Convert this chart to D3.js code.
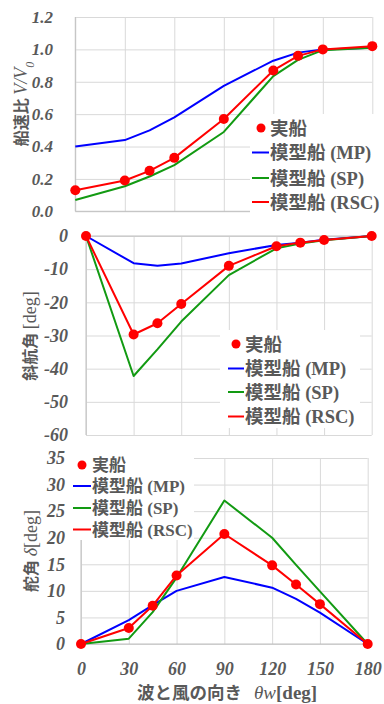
<!DOCTYPE html>
<html>
<head>
<meta charset="utf-8">
<script src="https://cdn.jsdelivr.net/npm/d3@7"></script>
<style>
  body { margin: 0; background: #ffffff; }
  svg { display: block; }
</style>
</head>
<body>
<svg id="chart" width="384" height="704"></svg>
<script>
// Wave/wind heading angles (deg) at which each quantity was evaluated
const angles = [0, 30, 45, 60, 90, 120, 135, 150, 180];
const xTickValues = [0, 30, 60, 90, 120, 150, 180];

const seriesNames = ["実船", "模型船 (MP)", "模型船 (SP)", "模型船 (RSC)"];
const seriesColors = ["#ff0000", "#0000ff", "#129a12", "#ff0000"];

// Speed ratio V/V0
const speedShip = [0.13, 0.19, 0.25, 0.33, 0.57, 0.87, 0.96, 1.00, 1.02];
const speedMP   = [0.40, 0.44, 0.50, 0.58, 0.775, 0.93, 0.98, 1.00, 1.01];
const speedSP   = [0.07, 0.155, 0.215, 0.285, 0.49, 0.835, 0.935, 0.995, 1.01];
const speedRSC  = [0.13, 0.19, 0.25, 0.33, 0.57, 0.87, 0.96, 1.00, 1.02];
const speedTicks = [0, 0.2, 0.4, 0.6, 0.8, 1.0, 1.2];

// Drift angle (deg)
const driftShip = [0, -29.7, -26.3, -20.5, -9.0, -3.1, -2.0, -1.2, 0];
const driftMP   = [0, -8.2, -9.0, -8.3, -5.2, -2.7, -2.0, -1.1, 0];
const driftSP   = [0, -42.2, -34.2, -25.8, -11.8, -3.7, -2.3, -1.3, 0];
const driftRSC  = [0, -29.7, -26.3, -20.5, -9.0, -3.1, -2.0, -1.2, 0];
const driftTicks = [0, -10, -20, -30, -40, -50, -60];

// Rudder angle δ (deg)
const rudderShip = [0, 3.0, 7.2, 12.9, 20.7, 14.8, 11.2, 7.5, 0];
const rudderMP   = [0, 4.5, 7.3, 10.0, 12.6, 10.6, 8.5, 5.9, 0];
const rudderSP   = [0, 1.0, 6.0, 12.5, 27.0, 20.0, 14.9, 9.9, 0];
const rudderRSC  = [0, 3.0, 7.2, 12.9, 20.7, 14.8, 11.2, 7.5, 0];
const rudderTicks = [0, 5, 10, 15, 20, 25, 30, 35];

const svg = d3.select("#chart");
const TEXT = "#595959";
const GRID = "#d9d9d9";
const AXIS = "#bfbfbf";
const JP = "'Noto Sans CJK JP', 'Noto Sans CJK SC', sans-serif";
const SERIF = "'Liberation Serif', 'DejaVu Serif', serif";

// plain hyphen for negatives, as in the printed tick labels
const intFmt = d => String(d);
const oneDecimal = d => d.toFixed(1);

function drawPanel(cfg) {
  const g = svg.append("g");
  const x = d3.scaleLinear().domain([0, 180]).range(cfg.xRange);
  const y = d3.scaleLinear().domain(cfg.yDomain).range(cfg.yRange);
  const top = Math.min(...cfg.yRange), bottom = Math.max(...cfg.yRange);

  // horizontal gridlines
  g.append("g")
    .attr("transform", `translate(${cfg.xRange[0]},0)`)
    .call(d3.axisLeft(y).tickValues(cfg.yTicks).tickSize(-(cfg.xRange[1] - cfg.xRange[0])).tickFormat(""))
    .call(a => a.select(".domain").remove())
    .call(a => a.selectAll("line").attr("stroke", GRID));

  // vertical gridlines
  g.append("g")
    .attr("transform", `translate(0,${bottom})`)
    .call(d3.axisBottom(x).tickValues(xTickValues).tickSize(-(bottom - top)).tickFormat(""))
    .call(a => a.select(".domain").remove())
    .call(a => a.selectAll("line").attr("stroke", GRID));

  // axis lines
  g.append("line").attr("x1", x(0)).attr("x2", x(0)).attr("y1", top).attr("y2", bottom)
    .attr("stroke", AXIS);
  g.append("line").attr("x1", x(0)).attr("x2", x(180)).attr("y1", y(cfg.axisAt)).attr("y2", y(cfg.axisAt))
    .attr("stroke", AXIS);

  // y tick labels
  g.append("g")
    .attr("transform", `translate(${cfg.labelRight},0)`)
    .call(d3.axisLeft(y).tickValues(cfg.yTicks).tickSize(0).tickPadding(0).tickFormat(cfg.fmt))
    .call(a => a.select(".domain").remove())
    .call(a => a.selectAll("text")
      .attr("fill", TEXT)
      .attr("font-family", SERIF)
      .attr("font-weight", "bold")
      .attr("font-style", "italic")
      .attr("font-size", cfg.tickSize));

  // x tick labels
  if (cfg.xLabels) {
    g.append("g")
      .attr("transform", `translate(0,${cfg.xLabelY})`)
      .call(d3.axisBottom(x).tickValues(xTickValues).tickSize(0).tickPadding(0).tickFormat(intFmt))
      .call(a => a.select(".domain").remove())
      .call(a => a.selectAll("text")
        .attr("fill", TEXT)
        .attr("font-family", SERIF)
        .attr("font-weight", "bold")
        .attr("font-style", "italic")
        .attr("font-size", cfg.tickSize));
  }

  // model lines
  const line = d3.line().x((d, i) => x(angles[i])).y(d => y(d));
  [[cfg.series[1], seriesColors[1]], [cfg.series[2], seriesColors[2]], [cfg.series[3], seriesColors[3]]]
    .forEach(([vals, col]) => {
      g.append("path").datum(vals).attr("d", line)
        .attr("fill", "none").attr("stroke", col).attr("stroke-width", 2)
        .attr("stroke-linejoin", "round");
    });

  // full-scale ship markers
  g.append("g").selectAll("circle").data(cfg.series[0]).join("circle")
    .attr("cx", (d, i) => x(angles[i]))
    .attr("cy", d => y(d))
    .attr("r", 5)
    .attr("fill", seriesColors[0]);

  // legend
  const L = cfg.legend;
  const lg = svg.append("g");
  lg.append("rect").attr("x", L.x).attr("y", L.y).attr("width", L.w).attr("height", L.h).attr("fill", "#ffffff");
  seriesNames.forEach((name, i) => {
    const cy = L.rows[i];
    if (i === 0) {
      lg.append("circle").attr("cx", L.dotX).attr("cy", cy).attr("r", 4.5).attr("fill", seriesColors[0]);
    } else {
      lg.append("line").attr("x1", L.lineX[0]).attr("x2", L.lineX[1]).attr("y1", cy).attr("y2", cy)
        .attr("stroke", seriesColors[i]).attr("stroke-width", 2);
    }
    const parts = name.split(" ");
    const t = lg.append("text").attr("x", L.textX).attr("y", cy).attr("dy", "0.36em")
      .attr("fill", TEXT).attr("font-size", L.size).attr("font-weight", "bold");
    t.append("tspan").attr("font-family", JP).text(parts[0]);
    if (parts[1]) t.append("tspan").attr("font-family", SERIF).text(" " + parts[1]);
  });
}

drawPanel({
  xRange: [75.3, 372.3], yDomain: [0, 1.2], yRange: [211.3, 17], yTicks: speedTicks,
  axisAt: 0, labelRight: 53, fmt: oneDecimal, tickSize: 17,
  series: [speedShip, speedMP, speedSP, speedRSC],
  legend: { x: 250, y: 114, w: 134, h: 104, dotX: 261, lineX: [252, 269], textX: 270,
            rows: [128, 152.5, 178, 202], size: 18.5 }
});

drawPanel({
  xRange: [86, 371.7], yDomain: [-60, 0], yRange: [435, 236], yTicks: driftTicks,
  axisAt: 0, labelRight: 68, fmt: intFmt, tickSize: 18,
  series: [driftShip, driftMP, driftSP, driftRSC],
  legend: { x: 220, y: 330, w: 140, h: 98, dotX: 236, lineX: [228, 244], textX: 245,
            rows: [344, 368.5, 392, 416.5], size: 18.5 }
});

drawPanel({
  xRange: [81, 367.7], yDomain: [0, 35], yRange: [644, 458], yTicks: rudderTicks,
  axisAt: 0, labelRight: 65, fmt: intFmt, tickSize: 18,
  xLabels: true, xLabelY: 662,
  series: [rudderShip, rudderMP, rudderSP, rudderRSC],
  legend: { x: 72, y: 452, w: 122, h: 88, dotX: 82, lineX: [73, 91], textX: 92,
            rows: [465, 486, 508, 529.5], size: 17 }
});

// axis titles
function yTitle(cx, cy, parts) {
  const t = svg.append("text")
    .attr("transform", `translate(${cx},${cy}) rotate(-90)`)
    .attr("text-anchor", "middle").attr("dy", "0.36em").attr("fill", TEXT);
  parts.forEach(p => {
    const s = t.append("tspan").text(p.text)
      .attr("font-family", p.jp ? JP : SERIF)
      .attr("font-size", p.size)
      .attr("font-weight", p.bold ? "bold" : "normal")
      .attr("font-style", p.italic ? "italic" : "normal");
    if (p.sub) s.attr("baseline-shift", "sub");
  });
}

yTitle(21, 104, [
  { text: "船速比 ", jp: true, bold: true, size: 16 },
  { text: "V/V", italic: true, size: 18 },
  { text: "0", italic: true, size: 12, sub: true }
]);
yTitle(30, 336, [
  { text: "斜航角 ", jp: true, bold: true, size: 16 },
  { text: "[deg]", size: 18 }
]);
yTitle(31, 551, [
  { text: "舵角 ", jp: true, bold: true, size: 16 },
  { text: "δ", italic: true, size: 18 },
  { text: "[deg]", size: 18 }
]);

const xt = svg.append("text").attr("x", 137).attr("y", 693).attr("dy", "0.36em").attr("fill", TEXT);
xt.append("tspan").attr("font-family", JP).attr("font-weight", "bold").attr("font-size", 17.5).text("波と風の向き");
xt.append("tspan").attr("dx", 12).attr("font-family", SERIF).attr("font-style", "italic").attr("font-size", 19).text("θw");
xt.append("tspan").attr("font-family", SERIF).attr("font-weight", "bold").attr("font-size", 19).text("[deg]");
</script>
</body>
</html>
